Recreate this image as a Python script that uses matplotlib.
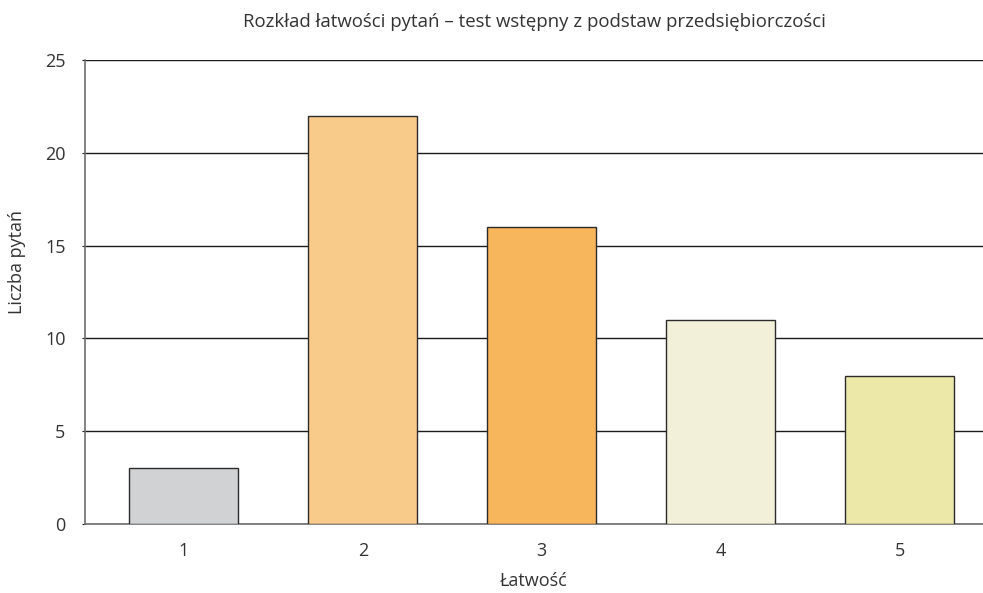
import matplotlib
matplotlib.use("Agg")
import matplotlib.pyplot as plt

categories = ["1", "2", "3", "4", "5"]
counts = [3, 22, 16, 11, 8]
bar_colors = ["#d1d2d4", "#f9cb8b", "#f7b55c", "#f2f0d9", "#ece9a8"]
y_ticks = [0, 5, 10, 15, 20, 25]

plt.rcParams["font.family"] = ["Open Sans", "DejaVu Sans"]
text_color = "#333333"

fig = plt.figure(figsize=(9.83, 5.93), dpi=100)
ax = fig.add_axes([85 / 983, 69 / 593, 898 / 983, 464 / 593])

x = list(range(1, len(categories) + 1))
ax.set_axisbelow(True)
ax.yaxis.grid(True, color="#1a1a1a", linewidth=1.0)
ax.bar(x, counts, width=0.61, color=bar_colors, edgecolor="#2b2b2b", linewidth=1.0, zorder=3)

ax.set_xlim(0.447, 5.467)
ax.set_ylim(0, 25)
ax.set_xticks(x)
ax.set_xticklabels(categories)
ax.set_yticks(y_ticks)

for side in ["top", "right"]:
    ax.spines[side].set_visible(False)
ax.spines["left"].set_color("#6e6e6e")
ax.spines["bottom"].set_color("#6e6e6e")
ax.spines["left"].set_linewidth(1.2)
ax.spines["bottom"].set_linewidth(1.2)

ax.tick_params(axis="x", length=0, pad=13, labelsize=13, labelcolor=text_color)
ax.tick_params(axis="y", length=2, pad=12, labelsize=13, labelcolor=text_color, color="#1a1a1a")

ax.set_title("Rozkład łatwości pytań – test wstępny z podstaw przedsiębiorczości",
             fontsize=13.4, color=text_color, pad=24)
ax.set_xlabel("Łatwość", fontsize=13, color=text_color)
ax.set_ylabel("Liczba pytań", fontsize=13, color=text_color)
ax.xaxis.set_label_coords(0.5, -0.103)
ax.yaxis.set_label_coords(-0.066, 0.565)

fig.savefig("out.png", dpi=100)
